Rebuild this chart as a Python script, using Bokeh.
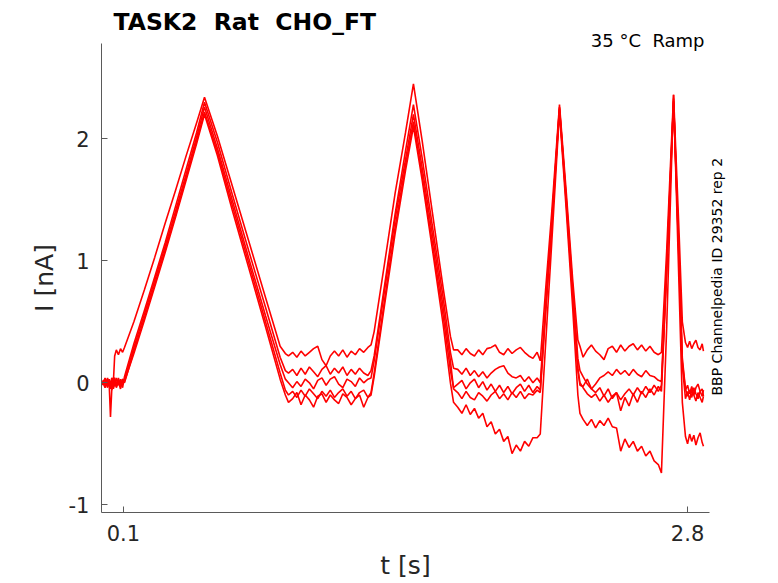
import math
from bokeh.plotting import figure
from bokeh.models import Range1d, FixedTicker, Title, LinearAxis
from bokeh.embed import file_html
from bokeh.resources import INLINE

# ---- data ----
T = [
    0.000, 0.012, 0.024, 0.032, 0.038, 0.044, 0.052, 0.058, 0.066, 0.076, 0.086, 0.096, 0.105,
    0.15, 0.20, 0.25, 0.30, 0.35, 0.40, 0.45, 0.488,
    0.55, 0.62, 0.70, 0.78, 0.85, 0.875, 0.89,
    0.91, 0.93, 0.95, 0.97, 0.99, 1.01, 1.03, 1.05, 1.07, 1.09, 1.11, 1.13, 1.15, 1.17, 1.19, 1.21, 1.23, 1.25, 1.27, 1.285,
    1.30, 1.35, 1.40, 1.45, 1.488, 1.53, 1.58, 1.63, 1.665, 1.68,
    1.70, 1.72, 1.74, 1.76, 1.78, 1.80, 1.82, 1.84, 1.86, 1.88, 1.90, 1.92, 1.94, 1.96, 1.98, 2.00, 2.02, 2.04, 2.06, 2.08, 2.095,
    2.12, 2.15, 2.187, 2.22, 2.25, 2.275, 2.285,
    2.30, 2.32, 2.34, 2.36, 2.38, 2.40, 2.42, 2.44, 2.46, 2.48, 2.50, 2.52, 2.54, 2.56, 2.58, 2.60, 2.62, 2.64, 2.66, 2.675,
    2.70, 2.733, 2.76, 2.775,
    2.79, 2.80, 2.81, 2.82, 2.83, 2.84, 2.85, 2.86, 2.87, 2.876,
]

I1 = [
    0.00, 0.03, -0.04, 0.02, -0.03, 0.04, 0.01, 0.22, 0.27, 0.23, 0.28, 0.25, 0.29,
    0.50, 0.76, 1.03, 1.31, 1.58, 1.86, 2.13, 2.34,
    2.02, 1.62, 1.16, 0.70, 0.30, 0.24, 0.22,
    0.25, 0.21, 0.26, 0.22, 0.25, 0.28, 0.30, 0.19, 0.14, 0.22, 0.26, 0.22, 0.27, 0.21, 0.26, 0.23, 0.28, 0.25, 0.29, 0.31,
    0.42, 0.98, 1.55, 2.05, 2.45, 1.98, 1.38, 0.78, 0.38, 0.27,
    0.27, 0.23, 0.28, 0.24, 0.22, 0.27, 0.23, 0.28, 0.29, 0.31, 0.25, 0.23, 0.28, 0.24, 0.27, 0.29, 0.25, 0.22, 0.20, 0.25, 0.18,
    0.75, 1.40, 2.28, 1.55, 0.85, 0.35, 0.30,
    0.21, 0.27, 0.31, 0.26, 0.23, 0.19, 0.28, 0.30, 0.25, 0.31, 0.26, 0.30, 0.32, 0.27, 0.31, 0.26, 0.30, 0.25, 0.23, 0.25,
    1.08, 2.36, 1.20, 0.50,
    0.33, 0.29, 0.34, 0.28, 0.32, 0.35, 0.29, 0.27, 0.32, 0.26,
]

I2 = [
    0.01, -0.04, 0.03, -0.02, -0.28, -0.06, 0.03, -0.03, 0.04, -0.02, 0.03, -0.04, 0.05,
    0.32, 0.59, 0.87, 1.15, 1.45, 1.75, 2.05, 2.30,
    1.97, 1.55, 1.08, 0.62, 0.21, 0.10, 0.08,
    0.11, 0.06, 0.12, 0.07, 0.13, 0.09, 0.05, 0.11, 0.14, 0.07, 0.12, 0.08, 0.13, 0.06, 0.11, 0.07, 0.12, 0.08, 0.06, 0.10,
    0.22, 0.80, 1.38, 1.90, 2.28, 1.84, 1.27, 0.70, 0.25, 0.12,
    0.11, 0.07, 0.12, 0.06, 0.10, 0.05, 0.09, 0.04, 0.08, 0.11, 0.13, 0.14, 0.08, 0.05, 0.04, 0.06, 0.01, 0.05, 0.00, 0.04, 0.00,
    0.62, 1.32, 2.25, 1.50, 0.78, 0.20, 0.10,
    0.05, -0.01, -0.05, -0.01, 0.04, 0.06, 0.09, 0.06, 0.11, 0.07, 0.10, 0.06, 0.11, 0.07, 0.05, 0.10, 0.06, 0.05, 0.02, 0.01,
    0.95, 2.33, 1.00, 0.20,
    -0.05, -0.11, -0.06, -0.12, -0.04, -0.09, -0.13, -0.07, -0.05, -0.11,
]

I3 = [
    -0.02, 0.04, -0.02, 0.03, -0.05, 0.02, -0.04, 0.03, -0.02, 0.04, -0.03, 0.01, 0.02,
    0.29, 0.56, 0.84, 1.12, 1.41, 1.71, 2.01, 2.26,
    1.92, 1.50, 1.02, 0.55, 0.15, 0.03, 0.00,
    -0.04, 0.01, -0.03, 0.03, 0.00, -0.05, 0.02, 0.04, -0.02, 0.03, 0.05, -0.01, -0.04, 0.03, 0.01, -0.03, 0.04, 0.00, 0.03, 0.04,
    0.18, 0.76, 1.34, 1.83, 2.20, 1.76, 1.20, 0.62, 0.18, -0.05,
    -0.08, -0.13, -0.07, -0.12, -0.14, -0.08, -0.11, -0.15, -0.10, -0.07, -0.13, -0.09, -0.14, -0.08, -0.12, -0.07, -0.13, -0.09, -0.10, -0.06, -0.08,
    0.55, 1.28, 2.24, 1.46, 0.72, 0.10, -0.02,
    -0.03, 0.03, -0.05, -0.08, -0.04, -0.11, -0.05, -0.13, -0.08, -0.23, -0.12, -0.19, -0.09, -0.16, -0.07, -0.12, -0.05, -0.10, -0.03, -0.07,
    0.90, 2.30, 0.95, 0.14,
    -0.13, -0.07, -0.14, -0.06, -0.10, -0.15, -0.08, -0.12, -0.16, -0.11,
]

I4 = [
    0.02, -0.02, 0.04, -0.03, 0.01, -0.06, 0.03, 0.04, -0.04, 0.01, -0.05, 0.03, 0.00,
    0.26, 0.53, 0.81, 1.09, 1.38, 1.68, 1.98, 2.22,
    1.89, 1.46, 0.98, 0.50, 0.08, -0.06, -0.10,
    -0.07, -0.12, -0.06, -0.11, -0.05, -0.09, -0.13, -0.07, -0.11, -0.06, -0.12, -0.08, -0.05, -0.11, -0.07, -0.13, -0.08, -0.06, -0.12, -0.08,
    0.08, 0.68, 1.27, 1.78, 2.14, 1.70, 1.13, 0.55, 0.10, -0.04,
    -0.01, 0.02, -0.05, 0.00, 0.03, -0.04, 0.01, -0.06, -0.01, -0.07, -0.02, -0.08, -0.03, -0.09, -0.04, -0.01, -0.07, -0.02, -0.08, -0.03, -0.06,
    0.58, 1.30, 2.26, 1.48, 0.75, 0.12, 0.00,
    -0.04, -0.09, -0.12, -0.09, -0.15, -0.10, -0.16, -0.11, -0.08, -0.14, -0.09, -0.05, -0.10, -0.04, -0.09, -0.03, -0.08, -0.02, -0.07, -0.02,
    0.92, 2.31, 0.98, 0.17,
    -0.06, -0.02, -0.09, -0.03, -0.10, -0.04, -0.01, -0.07, -0.11, -0.06,
]

I5 = [
    -0.01, 0.03, -0.03, 0.03, -0.02, 0.02, -0.05, 0.02, -0.03, 0.02, -0.01, 0.03, 0.01,
    0.24, 0.51, 0.79, 1.07, 1.36, 1.66, 1.96, 2.20,
    1.86, 1.42, 0.94, 0.46, 0.03, -0.10, -0.16,
    -0.13, -0.08, -0.18, -0.10, -0.14, -0.20, -0.11, -0.09, -0.16, -0.10, -0.14, -0.17, -0.09, -0.12, -0.18, -0.13, -0.10, -0.20, -0.12, -0.10,
    0.05, 0.64, 1.22, 1.74, 2.10, 1.66, 1.08, 0.48, 0.00, -0.16,
    -0.20, -0.25, -0.18, -0.26, -0.21, -0.29, -0.25, -0.36, -0.32, -0.42, -0.38, -0.48, -0.44, -0.58, -0.51, -0.56, -0.48, -0.52, -0.45, -0.45, -0.42,
    0.30, 1.15, 2.22, 1.40, 0.62, -0.10, -0.25,
    -0.30, -0.35, -0.30, -0.37, -0.31, -0.35, -0.29, -0.36, -0.37, -0.56, -0.46, -0.53, -0.48, -0.56, -0.52, -0.60, -0.56, -0.64, -0.67, -0.74,
    0.45, 2.36, 0.74, -0.16,
    -0.44, -0.50, -0.42, -0.48, -0.43, -0.51, -0.45, -0.41, -0.49, -0.52,
]

TRACES = [I1, I2, I3, I4, I5]
X_TICKS = [0.1, 2.8]
Y_TICKS = [-1, 0, 1, 2]
TITLE = "TASK2 \u00a0Rat \u00a0CHO_FT"
SUBTITLE = "35 °C \u00a0Ramp"
SIDE_NOTE = "BBP Channelpedia ID 29352 rep 2"
SIDE_NOTE_START = -0.104   # data y where the side note begins (it reads upward)
X_LABEL = "t [s]"
Y_LABEL = "I [nA]"

FONT = "DejaVu Sans"
AXIS_GREY = "#5a5a5a"
TEXT_DARK = "#262626"

p = figure(width=778, height=583, output_backend="svg", toolbar_location=None, title=None,
           x_range=Range1d(-0.005, 2.905), y_range=Range1d(-1.063, 2.781),
           min_border_left=101, min_border_right=69, min_border_top=43, min_border_bottom=71)
p.outline_line_color = None
p.xgrid.visible = False
p.ygrid.visible = False

for tr in TRACES:
    p.line(T, tr, line_color="#ff0000", line_width=1.6)

# axes
p.xaxis.ticker = FixedTicker(ticks=X_TICKS)
p.yaxis.ticker = FixedTicker(ticks=Y_TICKS)
p.yaxis.major_label_overrides = {v: str(v) for v in Y_TICKS}
for ax in (p.xaxis[0], p.yaxis[0]):
    ax.axis_line_color = AXIS_GREY
    ax.axis_line_width = 1
    ax.major_tick_line_color = AXIS_GREY
    ax.major_tick_in = 6
    ax.major_tick_out = 0
    ax.minor_tick_line_color = None
    ax.major_label_text_font = FONT
    ax.major_label_text_font_size = "21px"
    ax.major_label_text_color = TEXT_DARK
    ax.axis_label_text_font = FONT
    ax.axis_label_text_font_size = "25px"
    ax.axis_label_text_font_style = "normal"
    ax.axis_label_text_color = TEXT_DARK
p.xaxis.major_label_standoff = 12
p.yaxis.major_label_standoff = 12
p.yaxis.axis_label = Y_LABEL
p.yaxis.axis_label_standoff = 7
p.xaxis.axis_label = X_LABEL
p.xaxis.axis_label_standoff = 7

# side note as the (only) tick label of an empty right axis, reading upward
side = LinearAxis(ticker=FixedTicker(ticks=[SIDE_NOTE_START]), axis_line_color=None,
                  major_tick_line_color=None, minor_tick_line_color=None,
                  major_label_overrides={SIDE_NOTE_START: SIDE_NOTE},
                  major_label_orientation=math.pi / 2, major_label_standoff=2,
                  major_label_text_font=FONT, major_label_text_font_size="14px",
                  major_label_text_color="black")
p.add_layout(side, "right")

# subtitle (closest to frame) and title above it
p.add_layout(Title(text=SUBTITLE, align="right", text_font=FONT, text_font_size="18px",
                   text_font_style="normal", text_color="black", standoff=-15, offset=5), "above")
p.add_layout(Title(text=TITLE, align="left", text_font=FONT, text_font_size="23.5px",
                   text_font_style="bold", text_color="black", standoff=0, offset=12), "above")

open("out.html", "w").write(file_html(p, INLINE))
